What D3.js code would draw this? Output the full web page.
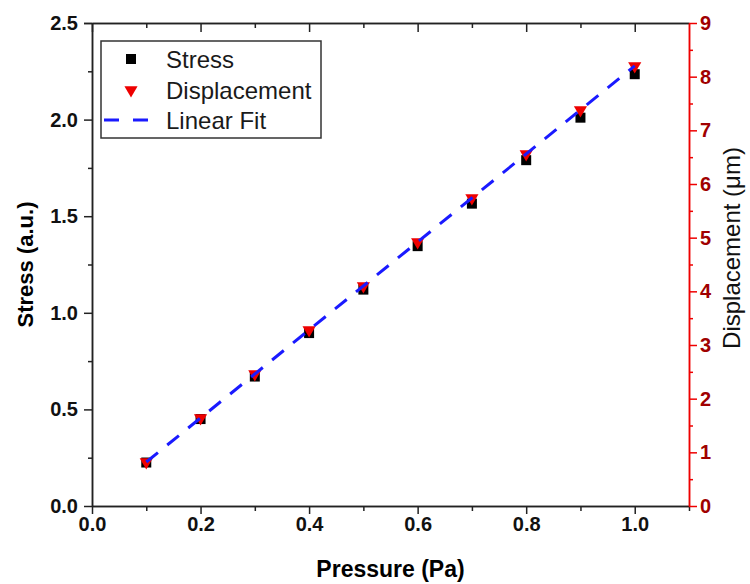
<!DOCTYPE html>
<html>
<head>
<meta charset="utf-8">
<script src="https://cdn.jsdelivr.net/npm/d3@7"></script>
<style>
	body { margin: 0; background: #fff; }
	svg { display: block; font-family: "Liberation Sans", Arial, sans-serif; }
</style>
</head>
<body>
<div id="chart"></div>
<script>
// data
const pressure = [0.1, 0.2, 0.3, 0.4, 0.5, 0.6, 0.7, 0.8, 0.9, 1.0];
const stress = [0.225, 0.45, 0.67, 0.895, 1.12, 1.345, 1.565, 1.79, 2.01, 2.235];
const displacement = [0.82, 1.64, 2.46, 3.28, 4.1, 4.92, 5.74, 6.56, 7.38, 8.2];
const fitX = [0.1, 1.0];
const fitY = [0.82, 8.2]; // on the displacement axis

const xTicks = [0, 0.2, 0.4, 0.6, 0.8, 1.0];
const xMinor = [0.1, 0.3, 0.5, 0.7, 0.9, 1.1];
const yTicks = [0, 0.5, 1.0, 1.5, 2.0, 2.5];
const yMinor = [0.25, 0.75, 1.25, 1.75, 2.25];
const y2Ticks = [0, 1, 2, 3, 4, 5, 6, 7, 8, 9];
const y2Minor = [0.5, 1.5, 2.5, 3.5, 4.5, 5.5, 6.5, 7.5, 8.5];

const legendItems = ["Stress", "Displacement", "Linear Fit"];

const W = 750, H = 584;
const M = { L: 92, R: 61, T: 23, B: 78 };
const RED = "#ee0000", DARKRED = "#a00000", BLUE = "#1a1aff";

var svg = d3.select("#chart").append("svg")
	.attr("width", W)
	.attr("height", H);

var x = d3.scaleLinear().domain([0, 1.1]).range([M.L, W - M.R]);
var y = d3.scaleLinear().domain([0, 2.5]).range([H - M.B, M.T]);
var y2 = d3.scaleLinear().domain([0, 9]).range([H - M.B, M.T]);

function fmt1(d) { return d3.format(".1f")(d); }

// bottom axis
var gx = svg.append("g").attr("transform", "translate(0," + (H - M.B) + ")");
gx.call(d3.axisBottom(x).tickValues(xTicks).tickFormat(fmt1).tickSize(8).tickSizeOuter(0));
gx.append("g").call(d3.axisBottom(x).tickValues(xMinor).tickFormat("").tickSize(5).tickSizeOuter(0));

// top axis, ticks pointing in
var gt = svg.append("g").attr("transform", "translate(0," + M.T + ")");
gt.call(d3.axisBottom(x).tickValues(xTicks).tickFormat("").tickSize(9).tickSizeOuter(0));
gt.append("g").call(d3.axisBottom(x).tickValues(xMinor.slice(0, 5)).tickFormat("").tickSize(5).tickSizeOuter(0));

// left axis
var gy = svg.append("g").attr("transform", "translate(" + M.L + ",0)");
gy.call(d3.axisLeft(y).tickValues(yTicks).tickFormat(fmt1).tickSize(8).tickSizeOuter(0));
gy.append("g").call(d3.axisLeft(y).tickValues(yMinor).tickFormat("").tickSize(4).tickSizeOuter(0));

// right axis (red)
var gy2 = svg.append("g").attr("transform", "translate(" + (W - M.R) + ",0)");
gy2.call(d3.axisRight(y2).tickValues(y2Ticks).tickFormat(d3.format("d")).tickSize(8).tickSizeOuter(0));
gy2.append("g").call(d3.axisRight(y2).tickValues(y2Minor).tickFormat("").tickSize(4).tickSizeOuter(0));

svg.selectAll(".domain, .tick line").attr("stroke", "#222").attr("stroke-width", 1.5);
gy2.selectAll(".domain, .tick line").attr("stroke", RED);
gt.select(".domain").attr("d", "M" + (M.L - 8) + ",0.5H" + (W - M.R));

svg.selectAll(".tick text")
	.attr("font-size", 20)
	.attr("font-weight", "bold")
	.attr("fill", "#111");
gy.selectAll(".tick text").attr("dx", "-3");
gy2.selectAll(".tick text").attr("fill", DARKRED);

// axis titles
svg.append("text")
	.attr("x", (M.L + W - M.R) / 2)
	.attr("y", 577)
	.attr("text-anchor", "middle")
	.attr("font-size", 23)
	.attr("font-weight", "bold")
	.text("Pressure (Pa)");

svg.append("text")
	.attr("transform", "translate(33," + ((M.T + H - M.B) / 2) + ") rotate(-90)")
	.attr("text-anchor", "middle")
	.attr("font-size", 22)
	.attr("font-weight", "bold")
	.text("Stress (a.u.)");

svg.append("text")
	.attr("transform", "translate(740,248) rotate(-90)")
	.attr("text-anchor", "middle")
	.attr("font-size", 24)
	.attr("fill", "#111")
	.text("Displacement (\u03bcm)");

// markers
var triangle = d3.symbol().type(d3.symbolTriangle).size(75);

svg.append("g").selectAll("rect")
	.data(pressure)
	.enter().append("rect")
		.attr("x", function(d) { return x(d) - 5; })
		.attr("y", function(d, i) { return y(stress[i]) - 5; })
		.attr("width", 10)
		.attr("height", 10)
		.attr("fill", "#000");

svg.append("g").selectAll("path")
	.data(pressure)
	.enter().append("path")
		.attr("d", triangle)
		.attr("transform", function(d, i) { return "translate(" + x(d) + "," + y2(displacement[i]) + ") rotate(180)"; })
		.attr("fill", RED);

// linear fit
var line = d3.line()
	.x(function(d) { return x(d); })
	.y(function(d, i) { return y2(fitY[i]); });

svg.append("path")
	.datum(fitX)
	.attr("d", line)
	.attr("fill", "none")
	.attr("stroke", BLUE)
	.attr("stroke-width", 3)
	.attr("stroke-dasharray", "15,12");

// legend
var lg = svg.append("g");
lg.append("rect")
	.attr("x", 101).attr("y", 41)
	.attr("width", 220).attr("height", 97)
	.attr("fill", "#fff")
	.attr("stroke", "#333")
	.attr("stroke-width", 1.5);

var rowY = [59, 90, 120];
lg.append("rect").attr("x", 126).attr("y", rowY[0] - 5).attr("width", 10).attr("height", 10).attr("fill", "#000");
lg.append("path").attr("d", triangle).attr("transform", "translate(131," + rowY[1] + ") rotate(180)").attr("fill", RED);
lg.append("line")
	.attr("x1", 104).attr("x2", 155)
	.attr("y1", rowY[2]).attr("y2", rowY[2])
	.attr("stroke", BLUE).attr("stroke-width", 3)
	.attr("stroke-dasharray", "15,14");

lg.selectAll("text.leg")
	.data(legendItems)
	.enter().append("text")
		.attr("class", "leg")
		.attr("x", 166)
		.attr("y", function(d, i) { return rowY[i]; })
		.attr("dy", "0.36em")
		.attr("font-size", 24)
		.attr("fill", "#1a1a1a")
		.text(function(d) { return d; });
</script>
</body>
</html>
